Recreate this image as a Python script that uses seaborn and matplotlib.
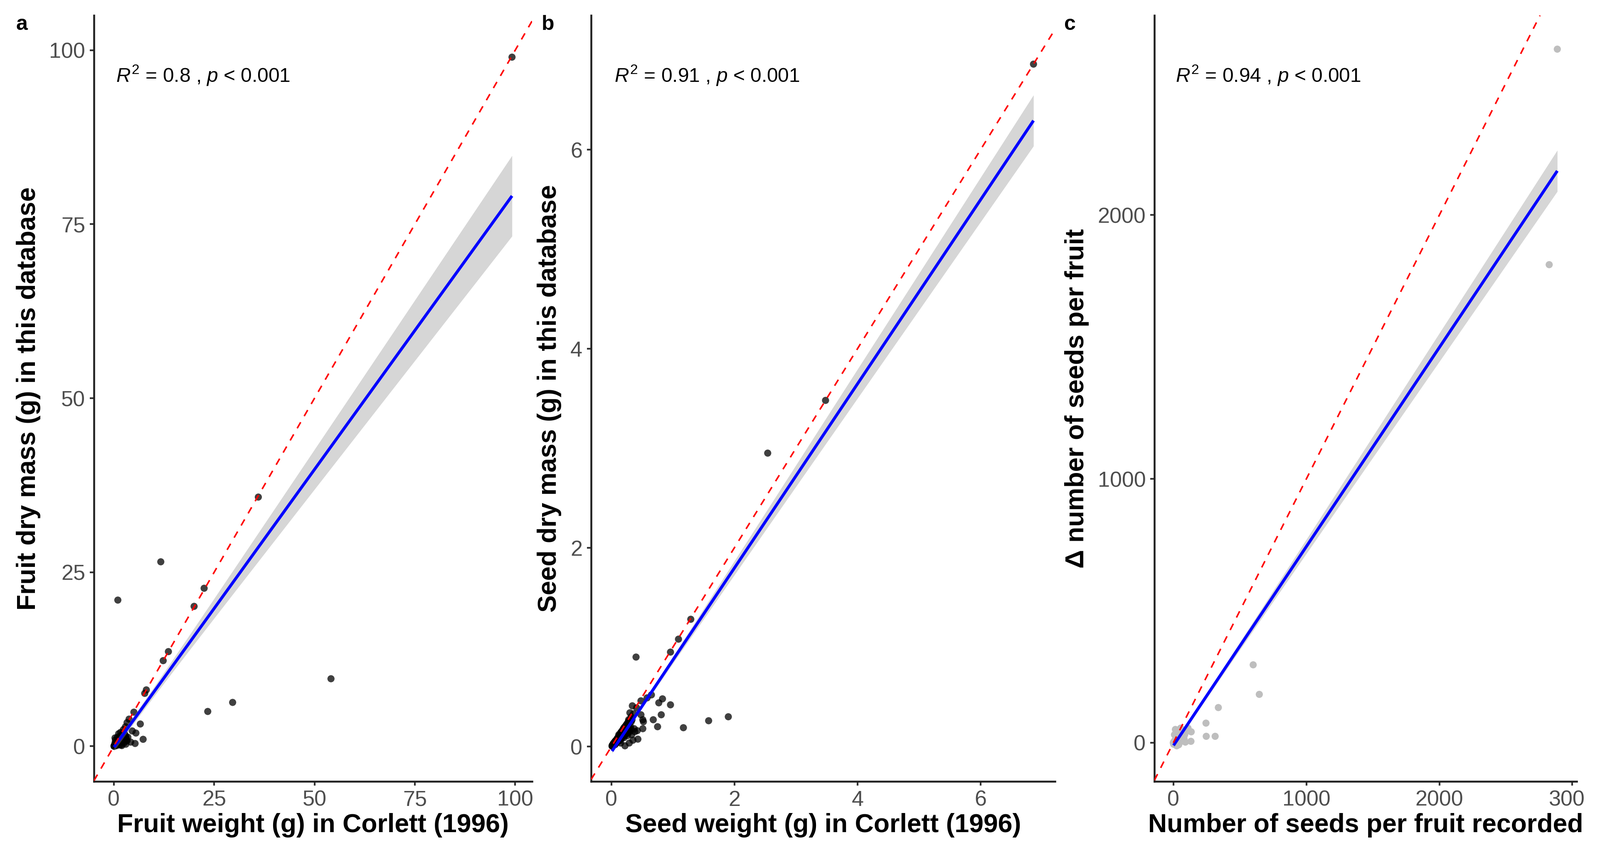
import numpy as np
import pandas as pd
import matplotlib
matplotlib.use("Agg")
import matplotlib.pyplot as plt
from matplotlib.transforms import Bbox, TransformedBbox
import seaborn as sns

# ---------------- data ----------------
# panel a: fruit weight in Corlett (1996) vs fruit dry mass in this database
fruit_corlett_main = [99.2, 36.0, 22.5, 20.0, 13.6, 12.3, 11.7, 1.0, 54.1, 29.6, 23.4, 8.1, 7.7,
                      5.0, 6.6, 3.8, 3.3, 2.9, 4.6, 5.5, 7.3, 3.5, 5.3, 4.2, 2.4,
                      0.2, 0.5, 0.8, 1.0, 1.3, 1.6, 0.3, 0.6, 1.1, 1.5, 2.0, 2.2, 2.6, 3.0,
                      1.8, 0.4, 0.9, 1.2, 2.0, 0.1, 0.7, 1.4, 2.8, 3.2, 0.3, 1.7]
fruit_db_main = [99.0, 35.8, 22.7, 20.1, 13.6, 12.3, 26.5, 21.0, 9.7, 6.3, 5.0, 8.1, 7.6,
                 4.9, 3.2, 3.9, 3.4, 2.8, 2.2, 1.9, 1.0, 1.3, 0.4, 0.6, 2.4,
                 0.1, 0.3, 0.6, 0.9, 1.1, 1.4, 0.5, 0.2, 0.4, 0.7, 1.6, 1.0, 0.5, 0.3,
                 0.2, 0.9, 1.3, 1.8, 0.1, 0.0, 0.1, 0.2, 1.6, 0.9, 1.2, 2.0]
# dense overlapping cluster close to the origin (black blob)
fruit_corlett_cluster = [
    0.12, 0.25, 0.33, 0.41, 0.48, 0.55, 0.62, 0.70, 0.78, 0.85,
    0.93, 1.02, 1.10, 1.18, 1.25, 1.34, 1.42, 1.51, 1.60, 1.72,
    1.85, 1.97, 2.10, 2.24, 2.38, 2.55, 2.70, 2.90, 3.10, 3.30,
    0.15, 0.22, 0.30, 0.36, 0.44, 0.52, 0.58, 0.66, 0.74, 0.81,
    0.88, 0.97, 1.05, 1.14, 1.22, 1.30, 1.38, 1.47, 1.56, 1.66,
    1.78, 1.90, 2.03, 2.16, 2.30, 2.46, 2.62, 2.80, 3.00, 0.08,
    0.18, 0.27, 0.35, 0.43, 0.50, 0.57, 0.64, 0.72, 0.80, 0.87,
    0.95, 1.04, 1.12, 1.20, 1.28, 1.36, 1.45, 1.54, 1.64, 1.75,
    1.88, 2.00, 2.14, 2.28, 2.44, 2.60, 0.05, 0.14, 0.24, 0.32,
    0.40, 0.47, 0.54, 0.61, 0.68, 0.76, 0.84, 0.91, 0.99, 1.08,
    1.16, 1.24, 1.33, 1.41, 1.50, 1.59, 1.70, 1.82, 1.95, 2.08,
    0.10, 0.20, 0.28, 0.38, 0.46, 0.53, 0.60, 0.69, 0.77, 0.83,
    0.90, 1.00, 1.07, 1.15, 1.27, 1.39, 1.53, 1.68, 1.83, 2.05,
    0.16, 0.26, 0.37, 0.45, 0.56, 0.65, 0.75, 0.86, 0.96, 1.06,
    1.17, 1.29, 1.44, 1.58, 1.76, 1.93, 2.20, 2.50, 0.21, 0.34]
fruit_db_cluster = [
    0.05, 0.10, 0.22, 0.15, 0.35, 0.28, 0.50, 0.40, 0.62, 0.55,
    0.70, 0.60, 0.85, 0.72, 0.95, 0.80, 1.10, 0.90, 1.25, 1.05,
    1.40, 1.20, 1.55, 1.30, 1.70, 1.45, 1.60, 1.25, 1.10, 0.80,
    0.12, 0.08, 0.25, 0.30, 0.20, 0.42, 0.45, 0.35, 0.58, 0.48,
    0.52, 0.75, 0.65, 0.90, 0.78, 1.00, 0.70, 1.15, 0.95, 1.30,
    1.00, 1.50, 0.90, 1.60, 1.35, 1.00, 1.85, 0.70, 1.40, 0.04,
    0.15, 0.20, 0.18, 0.38, 0.30, 0.45, 0.38, 0.60, 0.52, 0.65,
    0.58, 0.82, 0.70, 0.98, 0.85, 1.08, 0.92, 1.20, 1.02, 1.35,
    1.15, 1.62, 1.25, 1.80, 1.10, 1.50, 0.02, 0.10, 0.06, 0.25,
    0.28, 0.40, 0.32, 0.52, 0.46, 0.60, 0.50, 0.72, 0.66, 0.80,
    0.88, 0.96, 1.05, 0.82, 1.18, 1.02, 1.30, 1.12, 1.45, 1.28,
    0.09, 0.16, 0.12, 0.30, 0.24, 0.40, 0.34, 0.55, 0.44, 0.62,
    0.68, 0.76, 0.90, 0.80, 1.00, 1.10, 1.22, 1.35, 1.48, 1.60,
    0.06, 0.18, 0.26, 0.20, 0.38, 0.46, 0.42, 0.64, 0.70, 0.60,
    0.74, 0.98, 1.12, 1.05, 1.40, 1.20, 1.55, 1.70, 0.14, 0.22]

# panel b: seed weight in Corlett (1996) vs seed dry mass in this database
seed_corlett_main = [6.86, 3.48, 2.54, 1.29, 1.09, 0.96, 0.40, 1.90, 1.58, 1.17, 0.83, 0.77, 0.96,
                     0.81, 0.68, 0.75, 0.34, 0.41, 0.48, 0.65, 0.58, 0.48, 0.51, 0.52, 0.51,
                     0.42, 0.43, 0.32, 0.30, 0.24, 0.20, 0.22, 0.26, 0.33, 0.35, 0.22, 0.15,
                     0.08, 0.025, 0.29, 0.38, 0.37, 0.26, 0.23, 0.05, 0.10, 0.12, 0.15, 0.18,
                     0.06, 0.03, 0.14, 0.19, 0.28, 0.30, 0.36]
seed_db_main = [6.86, 3.48, 2.95, 1.28, 1.08, 0.95, 0.90, 0.30, 0.26, 0.19, 0.48, 0.44, 0.42,
                0.32, 0.27, 0.20, 0.41, 0.39, 0.46, 0.52, 0.49, 0.32, 0.27, 0.25, 0.18,
                0.16, 0.075, 0.30, 0.26, 0.20, 0.18, 0.13, 0.11, 0.12, 0.064, 0.008, 0.036,
                0.05, 0.008, 0.036, 0.15, 0.18, 0.23, 0.19, 0.04, 0.08, 0.12, 0.14, 0.10,
                0.02, 0.03, 0.06, 0.17, 0.27, 0.34, 0.33]
seed_corlett_cluster = [
    0.012, 0.018, 0.031, 0.037, 0.044, 0.052, 0.058, 0.066, 0.071, 0.079,
    0.085, 0.092, 0.098, 0.105, 0.111, 0.118, 0.124, 0.131, 0.137, 0.144,
    0.150, 0.157, 0.163, 0.170, 0.176, 0.183, 0.190, 0.197, 0.204, 0.212,
    0.220, 0.228, 0.236, 0.245, 0.254, 0.263, 0.273, 0.284, 0.296, 0.310,
    0.015, 0.026, 0.035, 0.047, 0.055, 0.063, 0.074, 0.083, 0.095, 0.102,
    0.108, 0.115, 0.121, 0.128, 0.134, 0.141, 0.147, 0.154, 0.160, 0.167,
    0.173, 0.180, 0.187, 0.194, 0.201, 0.208, 0.216, 0.224, 0.232, 0.241,
    0.250, 0.259, 0.268, 0.279, 0.290, 0.303, 0.318, 0.335, 0.022, 0.041,
    0.050, 0.061, 0.069, 0.077, 0.088, 0.097, 0.107, 0.113, 0.126, 0.133,
    0.139, 0.146, 0.152, 0.159, 0.166, 0.172, 0.179, 0.186, 0.193, 0.199,
    0.206, 0.214, 0.222, 0.230, 0.239, 0.248, 0.257, 0.266, 0.276, 0.288,
    0.014, 0.028, 0.039, 0.048, 0.057, 0.065, 0.075, 0.086, 0.094, 0.104,
    0.116, 0.123, 0.130, 0.142, 0.149, 0.156, 0.164, 0.175, 0.184, 0.195,
    0.210, 0.226, 0.243, 0.261, 0.282, 0.300, 0.010, 0.033, 0.045, 0.068,
    0.081, 0.090, 0.100, 0.110, 0.120, 0.136, 0.158, 0.178, 0.203, 0.234,
    0.016, 0.024, 0.043, 0.054, 0.072, 0.087, 0.099, 0.119, 0.140, 0.162,
    0.182, 0.218, 0.252, 0.270, 0.322, 0.029, 0.060, 0.093, 0.127, 0.188,
    0.019, 0.036, 0.053, 0.078, 0.109, 0.145, 0.169, 0.200, 0.237, 0.265]
seed_db_cluster = [
    0.010, 0.008, 0.025, 0.020, 0.040, 0.030, 0.052, 0.035, 0.060, 0.045,
    0.070, 0.050, 0.085, 0.060, 0.095, 0.072, 0.110, 0.080, 0.120, 0.090,
    0.130, 0.100, 0.150, 0.110, 0.160, 0.120, 0.175, 0.130, 0.190, 0.140,
    0.200, 0.150, 0.215, 0.160, 0.230, 0.170, 0.250, 0.180, 0.265, 0.200,
    0.006, 0.020, 0.015, 0.038, 0.028, 0.050, 0.040, 0.065, 0.052, 0.080,
    0.058, 0.095, 0.066, 0.105, 0.075, 0.118, 0.082, 0.130, 0.092, 0.142,
    0.098, 0.155, 0.105, 0.165, 0.112, 0.180, 0.120, 0.195, 0.128, 0.210,
    0.140, 0.225, 0.150, 0.240, 0.160, 0.255, 0.175, 0.270, 0.012, 0.030,
    0.045, 0.038, 0.060, 0.050, 0.072, 0.062, 0.085, 0.070, 0.100, 0.078,
    0.115, 0.088, 0.128, 0.095, 0.140, 0.102, 0.152, 0.110, 0.165, 0.118,
    0.178, 0.125, 0.190, 0.132, 0.205, 0.140, 0.220, 0.150, 0.235, 0.160,
    0.012, 0.018, 0.030, 0.025, 0.045, 0.035, 0.060, 0.048, 0.075, 0.058,
    0.100, 0.068, 0.110, 0.078, 0.125, 0.088, 0.140, 0.098, 0.155, 0.108,
    0.165, 0.120, 0.185, 0.135, 0.210, 0.150, 0.004, 0.028, 0.022, 0.055,
    0.040, 0.075, 0.052, 0.090, 0.062, 0.105, 0.078, 0.125, 0.090, 0.145,
    0.014, 0.010, 0.035, 0.022, 0.058, 0.042, 0.080, 0.060, 0.118, 0.085,
    0.150, 0.115, 0.200, 0.145, 0.250, 0.026, 0.035, 0.075, 0.068, 0.160,
    0.016, 0.025, 0.045, 0.040, 0.090, 0.080, 0.140, 0.105, 0.195, 0.140]

# panel c: number of seeds per fruit recorded vs delta number of seeds per fruit
nseeds_recorded_main = [2887, 2826, 600, 646, 338, 245, 247, 314, 134, 132,
                        1, 10, 20, 30, 45, 55, 8, 60, 80, 90, 40, 25, 70, 15, 50]
nseeds_delta_main = [2629, 1812, 295, 183, 133, 74, 24, 24, 41, 5,
                     0, 2, 10, 25, 40, 55, 30, 5, 15, 2, -8, -12, 35, 50, 20]
nseeds_recorded_cluster = [
    1, 2, 2, 3, 4, 5, 5, 6, 7, 8,
    9, 10, 11, 12, 13, 14, 15, 16, 18, 20,
    22, 24, 26, 28, 30, 33, 36, 40, 44, 48,
    1, 3, 4, 6, 8, 10, 12, 15, 18, 21,
    25, 29, 34, 38, 42, 52, 58, 65, 72, 85,
    2, 3, 5, 7, 9, 11, 13, 16, 19, 23,
    27, 31, 35, 45, 55, 62, 68, 75, 95, 110,
    1, 2, 4, 6, 8, 12, 14, 17, 24, 32,
    3, 5, 6, 9, 11, 15, 20, 26, 37, 50,
    1, 1, 2, 3, 4, 7, 10, 13, 19, 28,
    2, 4, 6, 8, 12, 16, 22, 30, 41, 60,
    1, 2, 3, 5, 8, 11, 14, 18, 25, 35,
    2, 3, 4, 6, 9, 12, 17, 21, 29, 46,
    1, 2, 5, 7, 10, 13, 16, 23, 33, 54]
nseeds_delta_cluster = [
    0, 1, -1, 2, 2, 3, 1, 4, 3, 5,
    6, 2, 8, 5, 9, 4, 10, 7, 12, 9,
    15, 10, 18, 12, 22, 16, 25, 20, 30, 24,
    -2, 1, 3, 2, 5, 4, 8, 6, 12, 10,
    18, 14, 26, 20, 32, 28, 40, 35, 48, 30,
    1, 2, 0, 4, 3, 7, 5, 9, 8, 14,
    20, 16, 25, 22, 38, 30, 45, 38, 42, 55,
    0, -3, 2, 1, 5, 6, 10, 8, 15, 18,
    -5, 3, 2, 6, 4, 10, 12, 15, 22, 26,
    0, -1, 1, 0, 2, 3, 6, 5, 12, 16,
    1, 2, 4, 3, 7, 10, 14, 18, 28, 35,
    0, 1, 2, 1, 4, 6, 8, 11, 15, 20,
    -6, 0, 2, 3, 5, 6, 10, 12, 18, 24,
    1, 0, 3, 4, 6, 7, 9, 14, 20, 32]

panel_letters = ["a", "b", "c"]
x_titles = ["Fruit weight (g) in Corlett (1996)",
            "Seed weight (g) in Corlett (1996)",
            "Number of seeds per fruit recorded"]
y_titles = ["Fruit dry mass (g) in this database",
            "Seed dry mass (g) in this database",
            "\u0394 number of seeds per fruit"]
r2_labels = ["0.8", "0.91", "0.94"]
p_label = "0.001"
x_ticks = [[0, 25, 50, 75, 100], [0, 2, 4, 6], [0, 1000, 2000, 3000]]
y_ticks = [[0, 25, 50, 75, 100], [0, 2, 4, 6], [0, 1000, 2000]]

# ---------------- style ----------------
sns.set_theme(style="ticks")
plt.rcParams["font.family"] = ["Liberation Sans", "DejaVu Sans"]
plt.rcParams["mathtext.fontset"] = "custom"
plt.rcParams["mathtext.rm"] = "Liberation Sans"
plt.rcParams["mathtext.it"] = "Liberation Sans:italic"
plt.rcParams["mathtext.bf"] = "Liberation Sans:bold"

W, H = 3849, 2045
fig = plt.figure(figsize=(W / 300, H / 300), dpi=300)

top_px, bot_px = 37, 1880
axes_px = [(226, 1280), (1422, 2538), (2777, 3793)]
limits = [((-4.95, 104.2), (-5.05, 105.0)),
          ((-0.33, 7.21), (-0.35, 7.35)),
          ((-143, 3033), (-147, 2757))]
letter_px = [39, 1303, 2560]
clip_right_px = 3811  # the right-most cell of the arrangement clips its text

datasets = [(fruit_corlett_main + fruit_corlett_cluster, fruit_db_main + fruit_db_cluster,
             "black", 0.75),
            (seed_corlett_main + seed_corlett_cluster, seed_db_main + seed_db_cluster,
             "black", 0.75),
            (nseeds_recorded_main + nseeds_recorded_cluster,
             nseeds_delta_main + nseeds_delta_cluster, "#BEBEBE", 1.0)]


def t975(df):
    return 1.959964 + 2.37 / df + 2.82 / df ** 2


for i, (xv, yv, pcol, palpha) in enumerate(datasets):
    l, r = axes_px[i]
    ax = fig.add_axes([l / W, 1 - bot_px / H, (r - l) / W, (bot_px - top_px) / H])
    df = pd.DataFrame({"x": xv, "y": yv})

    sns.scatterplot(data=df, x="x", y="y", ax=ax, color=pcol, alpha=palpha,
                    s=17, linewidth=0, edgecolor="none", zorder=2, legend=False)

    # analytic 95% confidence band of the linear fit (as geom_smooth(method = "lm"))
    x = np.asarray(xv, float)
    y = np.asarray(yv, float)
    n = len(x)
    slope, icpt = np.polyfit(x, y, 1)
    xs = np.linspace(x.min(), x.max(), 200)
    yhat = icpt + slope * xs
    resid = y - (icpt + slope * x)
    s = np.sqrt(np.sum(resid ** 2) / (n - 2))
    sxx = np.sum((x - x.mean()) ** 2)
    se = s * np.sqrt(1 / n + (xs - x.mean()) ** 2 / sxx)
    tq = t975(n - 2)
    ax.fill_between(xs, yhat - tq * se, yhat + tq * se, color="#999999", alpha=0.4,
                    linewidth=0, zorder=3)

    sns.regplot(data=df, x="x", y="y", ax=ax, scatter=False, ci=None, truncate=True,
                color="#0000FF", line_kws=dict(lw=1.7, zorder=4, solid_capstyle="butt"))

    ax.axline((0, 0), slope=1, color="#FF0000", lw=0.9, ls=(0, (4.5, 4.5)), zorder=5)

    ax.set_xlim(*limits[i][0])
    ax.set_ylim(*limits[i][1])
    ax.set_xticks(x_ticks[i])
    ax.set_yticks(y_ticks[i])
    ax.set_xticklabels([str(v) for v in x_ticks[i]])
    ax.set_yticklabels([str(v) for v in y_ticks[i]])

    for side in ["top", "right"]:
        ax.spines[side].set_visible(False)
    for side in ["left", "bottom"]:
        ax.spines[side].set_color("#222222")
        ax.spines[side].set_linewidth(1.1)
    ax.tick_params(axis="both", direction="out", length=2.5, width=1.0, color="#333333",
                   labelsize=12.5, labelcolor="#4D4D4D", pad=2.5, bottom=True, left=True)

    ax.set_xlabel(x_titles[i], fontsize=15, fontweight="bold", color="black", labelpad=1.5)
    ax.set_ylabel(y_titles[i], fontsize=15, fontweight="bold", color="black", labelpad=5)

    ax.text(0.05, 0.913, r"$R^{2}$ = " + r2_labels[i] + r" , $p$ < " + p_label,
            transform=ax.transAxes, ha="left", va="baseline", fontsize=11.5, color="black",
            zorder=6)

    fig.text(letter_px[i] / W, 1 - 72 / H, panel_letters[i], fontsize=12,
             fontweight="bold", ha="left", va="baseline", color="black")

    if i == 2:
        clip = TransformedBbox(Bbox([[0, 0], [clip_right_px / W, 1]]), fig.transFigure)
        for lab in list(ax.get_xticklabels()) + [ax.xaxis.label]:
            lab.set_clip_box(clip)
            lab.set_clip_on(True)

fig.savefig("out.png", dpi=300, facecolor="white")
